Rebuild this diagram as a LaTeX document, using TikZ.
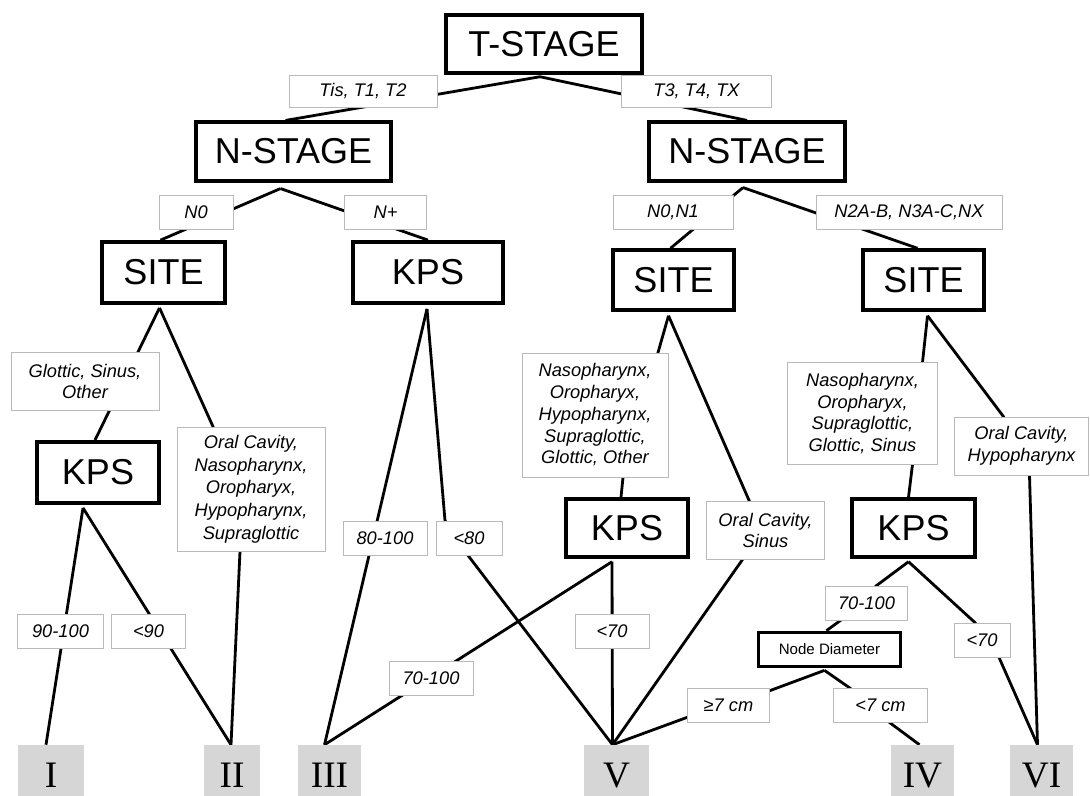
\documentclass[tikz,border=0pt]{standalone}
\usepackage{fontspec}
\setmainfont{Liberation Sans}
\newfontfamily\romanfont{Liberation Serif}
\usetikzlibrary{calc}
\pgfdeclarelayer{bg}
\pgfsetlayers{bg,main}
\begin{document}
\begin{tikzpicture}[x=0.75pt,y=-0.75pt,
  mainbox/.style={draw, line width=2.6pt, fill=white, inner sep=0pt, font=\fontsize{27}{32}\selectfont},
  smallbox/.style={draw, line width=2.3pt, fill=white, inner sep=0pt, font=\fontsize{11.3}{13}\selectfont},
  lab/.style={draw=gray!55, line width=0.6pt, fill=white, inner sep=0pt, align=center, font=\fontsize{13.7}{16.3}\selectfont\itshape},
  res/.style={fill=gray!32, inner sep=0pt, minimum height=38.25pt, text height=31.5pt, text depth=6.75pt, font=\romanfont\fontsize{28}{30}\selectfont},
  conn/.style={line width=2.1pt, line join=round}
]
\useasboundingbox (0,0) rectangle (1090,796);

% main decision boxes
\node[mainbox, minimum width=147pt, minimum height=43.5pt] (tstage) at (544,44) {T-STAGE};
\node[mainbox, minimum width=146pt, minimum height=44pt] (nsL) at (293.5,151.5) {N-STAGE};
\node[mainbox, minimum width=147pt, minimum height=44pt] (nsR) at (747,151.5) {N-STAGE};
\node[mainbox, minimum width=92pt, minimum height=46pt] (siteL) at (163.5,272.5) {SITE};
\node[mainbox, minimum width=112.5pt, minimum height=46pt] (kpsA) at (428,272.5) {KPS};
\node[mainbox, minimum width=91pt, minimum height=45pt] (siteM) at (673.5,280) {SITE};
\node[mainbox, minimum width=91pt, minimum height=45pt] (siteR) at (923.5,280) {SITE};
\node[mainbox, minimum width=91.5pt, minimum height=46pt] (kpsL) at (98,472.5) {KPS};
\node[mainbox, minimum width=91.5pt, minimum height=43.5pt] (kpsM) at (627,528) {KPS};
\node[mainbox, minimum width=92pt, minimum height=43.5pt] (kpsR) at (913.5,528) {KPS};
\node[smallbox, minimum width=106pt, minimum height=26pt] (nd) at (829.5,649.5) {Node Diameter};

% branch labels
\node[lab, minimum width=111pt, minimum height=24pt] (lTis) at (363,91) {Tis, T1, T2};
\node[lab, minimum width=112pt, minimum height=24pt] (lT3) at (696.5,91) {T3, T4, TX};
\node[lab, minimum width=55.5pt, minimum height=26pt] (lN0) at (196,212.5) {N0};
\node[lab, minimum width=62pt, minimum height=26pt] (lNp) at (385.5,212.5) {N+};
\node[lab, minimum width=90pt, minimum height=26pt] (lN01) at (673,212.5) {N0,N1};
\node[lab, minimum width=139.5pt, minimum height=25.5pt] (lN2) at (909,212) {N2A-B, N3A-C,NX};
\node[lab, minimum width=111pt, minimum height=43pt] (lGSO) at (85,381.5) {Glottic, Sinus,\\Other};
\node[lab, minimum width=111pt, minimum height=93pt, font=\fontsize{13.7}{17}\selectfont\itshape] (lOC1) at (251,489) {Oral Cavity,\\Nasopharynx,\\Oropharyx,\\Hypopharynx,\\Supraglottic};
\node[lab, minimum width=64pt, minimum height=26pt] (l90100) at (60.5,631.5) {90-100};
\node[lab, minimum width=55pt, minimum height=26pt] (l90) at (148.5,631.5) {<90};
\node[lab, minimum width=63pt, minimum height=25.5pt] (l80100) at (385,538) {80-100};
\node[lab, minimum width=49.5pt, minimum height=25.5pt] (l80) at (469,538) {<80};
\node[lab, minimum width=109.5pt, minimum height=93pt] (lNOH) at (595,415) {Nasopharynx,\\Oropharyx,\\Hypopharynx,\\Supraglottic,\\Glottic, Other};
\node[lab, minimum width=89pt, minimum height=43pt] (lOCS) at (765.5,530.5) {Oral Cavity,\\Sinus};
\node[lab, minimum width=55.5pt, minimum height=26pt] (l70L) at (612,631.5) {<70};
\node[lab, minimum width=63pt, minimum height=25pt] (l70100L) at (431,678.5) {70-100};
\node[lab, minimum width=112pt, minimum height=76pt] (lNOS) at (862.5,413.5) {Nasopharynx,\\Oropharyx,\\Supraglottic,\\Glottic, Sinus};
\node[lab, minimum width=100pt, minimum height=43.5pt] (lOCH) at (1021.5,446) {Oral Cavity,\\Hypopharynx};
\node[lab, minimum width=62pt, minimum height=25.5pt] (l70100R) at (866.5,603) {70-100};
\node[lab, minimum width=42pt, minimum height=25.5pt] (l70R) at (982,640) {<70};
\node[lab, minimum width=62pt, minimum height=26pt] (lge7) at (728.5,705.5) {≥7 cm};
\node[lab, minimum width=71pt, minimum height=26pt] (llt7) at (880.5,705.5) {<7 cm};

% result classes
\node[res, minimum width=49.5pt] (rI) at (51,770.5) {I};
\node[res, minimum width=42pt] (rII) at (232,770.5) {II};
\node[res, minimum width=47pt] (rIII) at (329.5,770.5) {III};
\node[res, minimum width=49pt] (rV) at (616.5,770.5) {V};
\node[res, minimum width=47pt] (rIV) at (922.5,770.5) {IV};
\node[res, minimum width=47pt] (rVI) at (1041.5,770.5) {VI};

% attachment points
\coordinate (tsB) at ($(tstage.south)+(-4,2)$);
\coordinate (nsLb) at ($(nsL.south)+(-13,6)$);
\coordinate (nsRb) at ($(nsR.south)+(-4,5)$);
\coordinate (siteLb) at ($(siteL.south)+(-4,3)$);
\coordinate (kpsAb) at ($(kpsA.south)+(-1,4)$);
\coordinate (siteMb) at ($(siteM.south)+(-5,4)$);
\coordinate (siteRb) at ($(siteR.south)+(4,4)$);
\coordinate (kpsLb) at ($(kpsL.south)+(-15,3)$);
\coordinate (kpsMb) at ($(kpsM.south)+(-15,3)$);
\coordinate (kpsRb) at ($(kpsR.south)+(-5,3)$);
\coordinate (ndb) at ($(nd.south)+(-5,2)$);
\coordinate (vI) at ($(rI.north)+(-5,0)$);
\coordinate (vII) at ($(rII.north)+(-1,0)$);
\coordinate (vIII) at ($(rIII.north)+(-5,0)$);
\coordinate (vV) at ($(rV.north)+(-4,0)$);
\coordinate (vIV) at ($(rIV.north)+(-3,0)$);
\coordinate (vVI) at ($(rVI.north)+(-4,0)$);

\begin{pgfonlayer}{bg}
\fill[white] (0,0) rectangle (1090,796);
\draw[conn] (tsB) -- ($(nsL.north)+(-8,0)$);
\draw[conn] (tsB) -- (nsR.north);
\draw[conn] (nsLb) -- ($(siteL.north)+(-3,0)$);
\draw[conn] (nsLb) -- (kpsA.north);
\draw[conn] (nsRb) -- ($(siteM.north)+(-3,0)$);
\draw[conn] (nsRb) -- ($(siteR.north)+(-6,0)$);
% left site
\draw[conn] (siteLb) -- ($(kpsL.north)+(-3,0)$);
\draw[conn] (siteLb) -- ($(lOC1.north)+(-38,0)$) -- ($(lOC1.south)+(-11,0)$) -- (vII);
\draw[conn] (kpsLb) -- (vI);
\draw[conn] (kpsLb) -- (vII);
% KPS after N+
\draw[conn] (kpsAb) -- (vIII);
\draw[conn] (kpsAb) -- ($(l80.north)+(-24,0)$) -- ($(l80.south)+(-1,0)$) -- (vV);
% middle site
\draw[conn] (siteMb) -- ($(lNOH.north)+(63,0)$) -- ($(lNOH.south)+(28,0)$) -- ($(kpsM.north)+(-6,0)$);
\draw[conn] (siteMb) -- ($(lOCS.north)+(-16,0)$) -- ($(lOCS.south)+(-23,0)$) -- (vV);
\draw[conn] (kpsMb) -- (vV);
\draw[conn] (kpsMb) -- (vIII);
% right site
\draw[conn] (siteRb) -- ($(lNOS.north)+(60,0)$) -- ($(lNOS.south)+(50,0)$) -- ($(kpsR.north)+(-5,0)$);
\draw[conn] (siteRb) -- ($(lOCH.north)+(-18,0)$) -- ($(lOCH.south)+(8,0)$) -- (vVI);
\draw[conn] (kpsRb) -- ($(l70100R.north)+(10,0)$) -- ($(l70100R.south)+(-26,0)$) -- ($(nd.north)+(-3,0)$);
\draw[conn] (kpsRb) -- ($(l70R.north)+(-7,0)$) -- ($(l70R.south)+(17,0)$) -- (vVI);
\draw[conn] (ndb) -- ($(lge7.east)+(0,-15)$) -- ($(lge7.west)+(0,12)$) -- (vV);
\draw[conn] (ndb) -- ($(llt7.north)+(-31,0)$) -- ($(llt7.south)+(10,0)$) -- (vIV);
\end{pgfonlayer}
\end{tikzpicture}
\end{document}
